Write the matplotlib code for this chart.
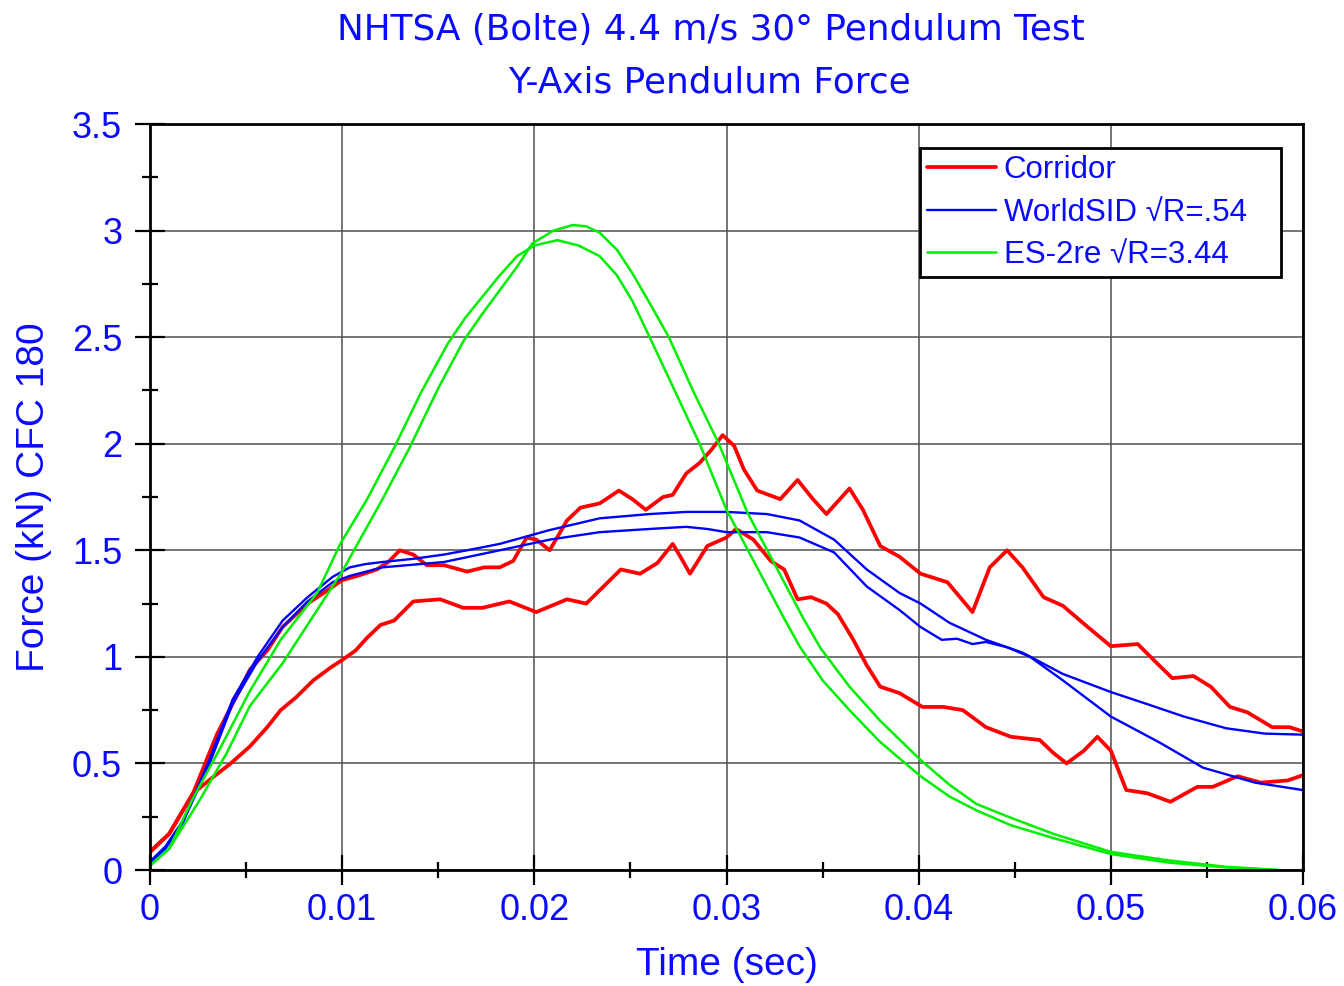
import numpy as np
import matplotlib
matplotlib.use("Agg")
import matplotlib.pyplot as plt
from matplotlib.ticker import MultipleLocator

plt.rcParams['font.family'] = ['Liberation Sans', 'DejaVu Sans']

# corridor, upper bound
t_corr_hi = [0, 0.001, 0.00224, 0.0035, 0.0043, 0.0052, 0.0061, 0.0069, 0.0082, 0.0092,
             0.0100, 0.0108, 0.0118, 0.0124, 0.0130, 0.0137, 0.0144, 0.0153, 0.0165, 0.0174,
             0.0182, 0.0189, 0.0196, 0.0201, 0.0208, 0.0217, 0.0224, 0.0234, 0.0244, 0.0251,
             0.0258, 0.0267, 0.0272, 0.0279, 0.0286, 0.0292, 0.0298, 0.0304, 0.0309, 0.0316,
             0.0322, 0.0328, 0.0337, 0.0345, 0.0352, 0.0364, 0.0371, 0.0380, 0.0390, 0.0401,
             0.0415, 0.0428, 0.0437, 0.0446, 0.0454, 0.0465, 0.0475, 0.0488, 0.0500, 0.0514,
             0.0524, 0.0532, 0.0543, 0.0552, 0.0562, 0.0571, 0.0584, 0.0593, 0.0600]
f_corr_hi = [0.085, 0.17, 0.36, 0.64, 0.78, 0.94, 1.03, 1.14, 1.25, 1.31,
             1.36, 1.38, 1.41, 1.445, 1.50, 1.48, 1.43, 1.43, 1.40, 1.42,
             1.42, 1.45, 1.56, 1.55, 1.50, 1.64, 1.70, 1.72, 1.78, 1.74,
             1.69, 1.75, 1.76, 1.86, 1.91, 1.97, 2.04, 1.99, 1.88, 1.78,
             1.76, 1.74, 1.83, 1.74, 1.67, 1.79, 1.69, 1.52, 1.47, 1.39,
             1.35, 1.21, 1.42, 1.50, 1.42, 1.28, 1.24, 1.14, 1.05, 1.06,
             0.97, 0.90, 0.91, 0.86, 0.765, 0.74, 0.67, 0.67, 0.65]

# corridor, lower bound
t_corr_lo = [0, 0.001, 0.00224, 0.0032, 0.0042, 0.0052, 0.0061, 0.0068, 0.0076, 0.0085,
             0.0094, 0.0100, 0.0107, 0.0113, 0.0120, 0.0127, 0.0137, 0.0151, 0.0163, 0.0173,
             0.0187, 0.0201, 0.0217, 0.0227, 0.0236, 0.0245, 0.0255, 0.0264, 0.0272, 0.0276,
             0.0281, 0.0290, 0.0300, 0.0305, 0.0314, 0.0323, 0.0330, 0.0337, 0.0344, 0.0352,
             0.0358, 0.0366, 0.0373, 0.0380, 0.0390, 0.0402, 0.0413, 0.0423, 0.0435, 0.0448,
             0.0463, 0.0470, 0.0477, 0.0486, 0.0493, 0.0500, 0.0508, 0.0519, 0.0531, 0.0545,
             0.0553, 0.0566, 0.0578, 0.0592, 0.0600]
f_corr_lo = [0.085, 0.17, 0.36, 0.43, 0.50, 0.58, 0.67, 0.75, 0.81, 0.89,
             0.95, 0.985, 1.03, 1.09, 1.15, 1.17, 1.26, 1.27, 1.23, 1.23,
             1.26, 1.21, 1.27, 1.25, 1.33, 1.41, 1.39, 1.44, 1.53, 1.47,
             1.39, 1.52, 1.56, 1.60, 1.55, 1.45, 1.41, 1.27, 1.28, 1.25,
             1.20, 1.08, 0.96, 0.86, 0.83, 0.765, 0.765, 0.75, 0.67, 0.625,
             0.61, 0.55, 0.50, 0.56, 0.625, 0.56, 0.375, 0.36, 0.32, 0.39,
             0.39, 0.44, 0.41, 0.42, 0.445]

# WorldSID, two tests
t_ws1 = [0, 0.0008, 0.0017, 0.0024, 0.0031, 0.0043, 0.0056, 0.0069, 0.0082, 0.0095,
         0.0104, 0.0112, 0.0121, 0.0137, 0.0153, 0.0165, 0.0182, 0.0208, 0.0234, 0.0260,
         0.0279, 0.0300, 0.0321, 0.0338, 0.0356, 0.0373, 0.0390, 0.0401, 0.0416, 0.0435,
         0.0454, 0.0475, 0.0500, 0.0520, 0.0538, 0.0560, 0.0580, 0.0600]
f_ws1 = [0.04, 0.11, 0.23, 0.37, 0.52, 0.80, 1.00, 1.17, 1.28, 1.375,
         1.42, 1.435, 1.445, 1.46, 1.48, 1.50, 1.53, 1.595, 1.65, 1.67,
         1.68, 1.68, 1.67, 1.64, 1.55, 1.41, 1.30, 1.25, 1.16, 1.08,
         1.02, 0.92, 0.835, 0.775, 0.72, 0.665, 0.64, 0.635]

t_ws2 = [0, 0.0008, 0.0017, 0.0024, 0.0031, 0.0043, 0.0056, 0.0069, 0.0082, 0.0095,
         0.0104, 0.0121, 0.0153, 0.0182, 0.0208, 0.0234, 0.0260, 0.0279, 0.0290, 0.0300,
         0.0321, 0.0338, 0.0356, 0.0373, 0.0390, 0.0401, 0.0412, 0.0420, 0.0428, 0.0435,
         0.0446, 0.0458, 0.0475, 0.0500, 0.0525, 0.0548, 0.0575, 0.0600]
f_ws2 = [0.035, 0.10, 0.22, 0.36, 0.50, 0.78, 0.98, 1.14, 1.26, 1.35,
         1.38, 1.42, 1.445, 1.50, 1.55, 1.585, 1.60, 1.61, 1.60, 1.585,
         1.585, 1.56, 1.49, 1.33, 1.22, 1.14, 1.08, 1.085, 1.06, 1.07,
         1.045, 1.00, 0.89, 0.72, 0.60, 0.48, 0.41, 0.375]

# ES-2re, two tests
t_es1 = [0, 0.0010, 0.0026, 0.0040, 0.0052, 0.0069, 0.0087, 0.0100, 0.0108, 0.0121,
         0.0135, 0.0150, 0.0163, 0.0173, 0.0182, 0.0191, 0.0199, 0.0210, 0.0220, 0.0227,
         0.0234, 0.0243, 0.0251, 0.0260, 0.0270, 0.0283, 0.0296, 0.0311, 0.0330, 0.0340,
         0.0349, 0.0364, 0.0380, 0.0401, 0.0416, 0.0430, 0.0448, 0.0470, 0.0500, 0.0530,
         0.0560, 0.0587]
f_es1 = [0.02, 0.10, 0.33, 0.55, 0.77, 0.97, 1.22, 1.40, 1.53, 1.74,
         1.98, 2.26, 2.48, 2.61, 2.72, 2.83, 2.94, 3.00, 3.026, 3.02,
         2.99, 2.91, 2.80, 2.66, 2.50, 2.24, 2.00, 1.675, 1.35, 1.18,
         1.04, 0.86, 0.70, 0.516, 0.40, 0.31, 0.245, 0.17, 0.085, 0.045,
         0.015, 0.0]

t_es2 = [0, 0.0010, 0.0022, 0.0037, 0.0052, 0.0068, 0.0087, 0.0099, 0.0113, 0.0127,
         0.0141, 0.0155, 0.0164, 0.0173, 0.0182, 0.0191, 0.0200, 0.0212, 0.0223, 0.0234,
         0.0243, 0.0251, 0.0260, 0.0273, 0.0286, 0.0300, 0.0320, 0.0330, 0.0338, 0.0350,
         0.0364, 0.0380, 0.0401, 0.0416, 0.0430, 0.0448, 0.0470, 0.0500, 0.0530, 0.0560,
         0.0587]
f_es2 = [0.02, 0.10, 0.33, 0.58, 0.84, 1.08, 1.30, 1.53, 1.74, 1.98,
         2.24, 2.47, 2.59, 2.69, 2.79, 2.88, 2.93, 2.955, 2.93, 2.88,
         2.79, 2.67, 2.50, 2.25, 2.00, 1.69, 1.35, 1.18, 1.05, 0.89,
         0.75, 0.60, 0.44, 0.345, 0.28, 0.21, 0.15, 0.075, 0.035, 0.012,
         0.0]

x_ticks = [0, 0.01, 0.02, 0.03, 0.04, 0.05, 0.06]
x_labels = ['0', '0.01', '0.02', '0.03', '0.04', '0.05', '0.06']
y_ticks = [0, 0.5, 1, 1.5, 2, 2.5, 3, 3.5]
y_labels = ['0', '0.5', '1', '1.5', '2', '2.5', '3', '3.5']

txt_blue = '#0a0aff'

fig = plt.figure(figsize=(13.44, 9.86), dpi=100)
ax = fig.add_axes([150/1344, 116/986, 1153/1344, 746/986])

line_kw = dict(solid_joinstyle='round', solid_capstyle='round')
ax.plot(t_corr_hi, f_corr_hi, color='#ff0000', lw=2.7, label='Corridor', zorder=3, **line_kw)
ax.plot(t_corr_lo, f_corr_lo, color='#ff0000', lw=2.7, zorder=3, **line_kw)
ax.plot(t_ws1, f_ws1, color='#0000ff', lw=1.7, label='WorldSID \u221aR=.54', zorder=4, **line_kw)
ax.plot(t_ws2, f_ws2, color='#0000ff', lw=1.7, zorder=4, **line_kw)
ax.plot(t_es1, f_es1, color='#00ee00', lw=1.8, label='ES-2re \u221aR=3.44', zorder=5, **line_kw)
ax.plot(t_es2, f_es2, color='#00ee00', lw=1.8, zorder=5, **line_kw)

ax.set_xlim(0, 0.06)
ax.set_ylim(0, 3.5)
ax.set_xticks(x_ticks)
ax.set_xticklabels(x_labels)
ax.set_yticks(y_ticks)
ax.set_yticklabels(y_labels)
ax.xaxis.set_minor_locator(MultipleLocator(0.005))
ax.yaxis.set_minor_locator(MultipleLocator(0.25))

ax.grid(True, which='major', color='#505050', lw=1.1)
ax.set_axisbelow(True)
for s in ax.spines.values():
    s.set_linewidth(2.0)
    s.set_color('black')
    s.set_zorder(6)

ax.tick_params(which='major', direction='inout', length=21, width=1.6,
               labelsize=26, labelcolor=txt_blue)
ax.tick_params(axis='x', which='major', pad=6)
ax.tick_params(axis='y', which='major', pad=9.5)
ax.tick_params(which='minor', direction='inout', length=12, width=1.6)

ax.set_xlabel('Time (sec)', fontsize=28, color=txt_blue, labelpad=14)
ax.set_ylabel('Force (kN) CFC 180', fontsize=28, color=txt_blue, labelpad=14)

fig.text(0.529, 0.970, 'NHTSA (Bolte) 4.4 m/s 30\u00b0 Pendulum Test', ha='center', va='center',
         fontsize=25.8, color=txt_blue, family='DejaVu Sans')
fig.text(0.528, 0.916, 'Y-Axis Pendulum Force', ha='center', va='center',
         fontsize=25.8, color=txt_blue, family='DejaVu Sans')

leg = ax.legend(loc='upper left', bbox_to_anchor=(0.6678, 0.5, 0.3131, 0.468), mode='expand',
                fontsize=22.5, labelcolor=txt_blue, frameon=True, fancybox=False,
                framealpha=1, edgecolor='black', handlelength=2.2, handletextpad=0.26,
                borderpad=0.22, labelspacing=0.41, borderaxespad=0)
leg.get_frame().set_linewidth(2.0)

fig.savefig('out.png', dpi=100)
